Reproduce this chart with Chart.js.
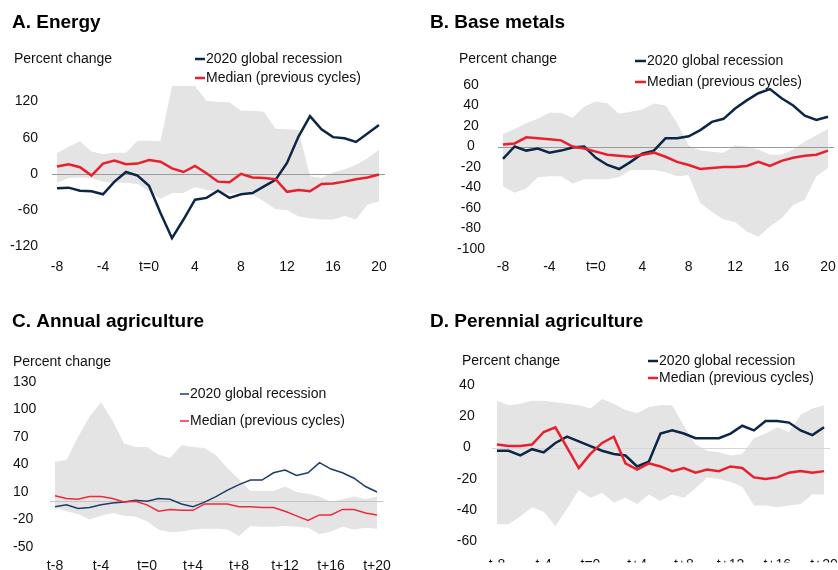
<!DOCTYPE html>
<html lang="en">
<head>
<meta charset="UTF-8">
<title>Commodity prices around global recessions</title>
<script src="https://cdn.jsdelivr.net/npm/chart.js"></script>
<style>
    body { margin: 0; background: #fff; }
    #wrap { position: relative; width: 838px; height: 570px; overflow: hidden; }
    .panel { position: absolute; width: 419px; height: 285px; }
</style>
</head>
<body>
<div id="wrap">
    <div class="panel" style="left:0;top:0"><canvas id="energy" width="419" height="285"></canvas></div>
    <div class="panel" style="left:419px;top:0"><canvas id="metals" width="419" height="285"></canvas></div>
    <div class="panel" style="left:0;top:285px"><canvas id="annual" width="419" height="285"></canvas></div>
    <div class="panel" style="left:419px;top:285px"><canvas id="perennial" width="419" height="285"></canvas></div>
</div>

<script>
// periods around the start of each recession
const periodsTop = ["-8","-7","-6","-5","-4","-3","-2","-1","t=0","1","2","3","4","5","6","7","8","9","10","11","12","13","14","15","16","17","18","19","20"];
const periodsBottom = ["t-8","t-7","t-6","t-5","t-4","t-3","t-2","t-1","t=0","t+1","t+2","t+3","t+4","t+5","t+6","t+7","t+8","t+9","t+10","t+11","t+12","t+13","t+14","t+15","t+16","t+17","t+18","t+19","t+20"];

const seriesNames = ["2020 global recession", "Median (previous cycles)"];

// A. Energy
const energyRecession = [-24,-23,-28,-29,-34,-13,3,-3,-20,-65,-107,-76,-43,-40,-28,-40,-34,-32,-21,-10,18,62,96,74,61,59,53,67,81];
const energyMedian = [12,16,11,-3,17,22,16,17,23,20,9,3,13,1,-13,-14,0,-6,-7,-9,-30,-27,-29,-17,-16,-13,-9,-6,-1];
const energyHigh = [34,45,54,37,33,35,35,55,55,54,146,146,146,121,120,119,105,105,103,75,74,73,-4,-7,2,7,15,26,40];
const energyLow = [-15,-7,-6,-7,-13,-15,-15,-17,-29,-42,-32,-32,-22,-27,-29,-33,-31,-35,-46,-59,-60,-71,-74,-76,-76,-70,-76,-51,-46];
const energyTicks = [-120,-60,0,60,120];

// B. Base metals
const metalsRecession = [-12,0,-4,-2,-6,-4,-1,0,-11,-18,-22,-15,-7,-4,8,8,10,16,24,27,37,45,52,56,47,40,30,26,29];
const metalsMedian = [2,3,9,8,7,6,0,-2,-5,-8,-9,-10,-8,-6,-10,-15,-18,-22,-21,-20,-20,-19,-15,-19,-14,-11,-9,-8,-4];
const metalsHigh = [12,17,23,27,33,33,28,39,44,42,32,34,36,42,40,23,1,-4,-5,-6,1,0,-3,-8,-8,-3,5,11,17];
const metalsLow = [-39,-45,-41,-30,-29,-29,-36,-32,-32,-32,-30,-23,-23,-23,-25,-29,-28,-55,-64,-71,-74,-83,-88,-78,-70,-57,-52,-29,-21];
const metalsTicks = [-100,-80,-60,-40,-20,0,20,40,60];

// C. Annual agriculture
const annualRecession = [-6,-4,-8,-7,-4,-2,-1,1,0,3,2,-3,-6,-1,5,12,18,23,23,31,34,28,31,42,35,31,25,16,10];
const annualMedian = [6,3,2,5,5,3,-1,0,-4,-11,-9,-10,-10,-3,-3,-3,-6,-6,-7,-7,-11,-16,-21,-15,-15,-9,-9,-13,-15];
const annualHigh = [43,45,70,92,108,88,63,59,59,51,47,61,59,58,50,36,24,11,11,11,16,10,8,5,-1,2,5,2,5];
const annualLow = [-7,-11,-14,-20,-16,-13,-16,-17,-22,-31,-34,-33,-31,-30,-30,-31,-38,-27,-28,-28,-27,-28,-29,-36,-33,-28,-31,-29,-30];
const annualTicks = [-50,-20,10,40,70,100,130];

// D. Perennial agriculture
const perennialRecession = [-2,-2,-5,-1,-3,3,7,4,1,-2,-4,-5,-12,-9,9,11,9,6,6,6,9,14,11,17,17,16,11,8,13];
const perennialMedian = [2,1,1,2,10,13,0,-13,-4,3,7,-10,-14,-10,-12,-15,-13,-16,-14,-15,-12,-13,-19,-20,-19,-16,-15,-16,-15];
const perennialHigh = [30,27,28,30,30,29,28,27,25,31,28,24,22,26,27,27,14,2,-2,-3,-5,-4,6,9,13,10,21,25,27];
const perennialLow = [-49,-49,-44,-38,-41,-50,-39,-27,-32,-29,-35,-32,-36,-30,-34,-30,-32,-26,-19,-20,-22,-25,-37,-37,-38,-37,-36,-30,-30];
const perennialTicks = [-60,-40,-20,0,20,40];

const FONT = "'Liberation Sans', Arial, Helvetica, sans-serif";
Chart.defaults.font.family = FONT;
Chart.defaults.font.size = 14;
Chart.defaults.color = "#111";

// title, unit label, legend and zero line
const decorations = {
    id: "decorations",
    beforeDatasetDraw(chart, args, opts) {
        if (args.index !== 1) return;
        const ctx = chart.ctx;
        const y = Math.round(chart.scales.y.getPixelForValue(0)) + 0.5;
        ctx.save();
        ctx.strokeStyle = opts.zeroColor;
        ctx.lineWidth = 1;
        ctx.beginPath();
        ctx.moveTo(chart.chartArea.left - 5, y);
        ctx.lineTo(chart.chartArea.right + 6, y);
        ctx.stroke();
        ctx.restore();
    },
    afterDraw(chart, args, opts) {
        const ctx = chart.ctx;
        ctx.save();
        ctx.textBaseline = "middle";
        ctx.textAlign = "left";
        ctx.fillStyle = "#000";
        ctx.font = "bold 19px " + FONT;
        ctx.fillText(opts.title, opts.titleX, opts.titleY);
        ctx.font = "14px " + FONT;
        ctx.fillStyle = "#111";
        ctx.fillText("Percent change", opts.unitX, opts.unitY);

        opts.legendRows.forEach((rowY, i) => {
            const ds = chart.data.datasets[opts.legendOrder[i]];
            ctx.strokeStyle = ds.borderColor;
            ctx.lineWidth = ds.borderWidth;
            ctx.beginPath();
            ctx.moveTo(opts.legendX, rowY);
            ctx.lineTo(opts.legendX + opts.markerW, rowY);
            ctx.stroke();
            ctx.fillText(ds.label, opts.legendX + opts.markerW + 1, rowY);
        });
        ctx.restore();
    }
};

function makePanel(id, cfg) {
    const W = 419, H = 285;
    new Chart(document.getElementById(id), {
        type: "line",
        data: {
            labels: cfg.labels,
            datasets: [
                { label: seriesNames[1], data: cfg.median, borderColor: cfg.red, borderWidth: cfg.lineWidth, pointRadius: 0, fill: false, tension: 0 },
                { label: seriesNames[0], data: cfg.recession, borderColor: cfg.navy, borderWidth: cfg.lineWidth, pointRadius: 0, fill: false, tension: 0 },
                { label: "high", data: cfg.high, borderWidth: 0, borderColor: "rgba(0,0,0,0)", pointRadius: 0, backgroundColor: "#e4e4e4", fill: "+1", tension: 0 },
                { label: "low", data: cfg.low, borderWidth: 0, borderColor: "rgba(0,0,0,0)", pointRadius: 0, fill: false, tension: 0 }
            ]
        },
        options: {
            responsive: false,
            animation: false,
            layout: {
                padding: { left: cfg.padLeft, top: cfg.area.top, right: W - cfg.area.right, bottom: 0 }
            },
            scales: {
                x: {
                    grid: { display: false, drawTicks: false },
                    border: { display: false },
                    offset: false,
                    ticks: {
                        autoSkip: false,
                        maxRotation: 0,
                        padding: cfg.xPad,
                        callback: (v, i) => (i % 4 === 0 ? cfg.labels[i] : "")
                    },
                    afterFit: (s) => {
                        s.height = H - cfg.area.bottom;
                        s.paddingLeft = 0;
                        s.paddingRight = 0;
                    }
                },
                y: {
                    min: cfg.min,
                    max: cfg.max,
                    grid: { display: false, drawTicks: false },
                    border: { display: false },
                    ticks: { padding: cfg.yPad, crossAlign: cfg.align },
                    afterBuildTicks: (s) => { s.ticks = cfg.ticks.map(v => ({ value: v })); },
                    afterFit: (s) => { s.width = cfg.area.left - cfg.padLeft; }
                }
            },
            plugins: {
                legend: { display: false },
                tooltip: { enabled: false },
                decorations: Object.assign({ legendOrder: [1, 0] }, cfg.deco)
            }
        },
        plugins: [decorations]
    });
}

makePanel("energy", {
    labels: periodsTop, recession: energyRecession, median: energyMedian, high: energyHigh, low: energyLow,
    ticks: energyTicks, min: -125, max: 146,
    area: { left: 57, right: 379, top: 86, bottom: 249 }, padLeft: 0,
    align: "near", yPad: 19, xPad: 10,
    navy: "#0c2647", red: "#e8202e", lineWidth: 2.5,
    deco: { title: "A. Energy", titleX: 12, titleY: 23, unitX: 14, unitY: 59, legendX: 195, markerW: 10, legendRows: [59, 78], zeroColor: "#9a9a9a" }
});

makePanel("metals", {
    labels: periodsTop, recession: metalsRecession, median: metalsMedian, high: metalsHigh, low: metalsLow,
    ticks: metalsTicks, min: -100, max: 60,
    area: { left: 84, right: 409, top: 85, bottom: 249 }, padLeft: 0,
    align: "center", yPad: 18, xPad: 10,
    navy: "#0c2647", red: "#e8202e", lineWidth: 2.5,
    deco: { title: "B. Base metals", titleX: 11, titleY: 23, unitX: 40, unitY: 59, legendX: 216, markerW: 11, legendRows: [61, 82], zeroColor: "#9a9a9a" }
});

makePanel("annual", {
    labels: periodsBottom, recession: annualRecession, median: annualMedian, high: annualHigh, low: annualLow,
    ticks: annualTicks, min: -50, max: 130,
    area: { left: 55, right: 377, top: 97, bottom: 262 }, padLeft: 13,
    align: "far", yPad: 10, xPad: 11,
    navy: "#1e3d6c", red: "#ee2a3a", lineWidth: 1.5,
    deco: { title: "C. Annual agriculture", titleX: 12, titleY: 37, unitX: 13, unitY: 77, legendX: 180, markerW: 9, legendRows: [109, 136], zeroColor: "#c4c4c4" }
});

makePanel("perennial", {
    labels: periodsBottom, recession: perennialRecession, median: perennialMedian, high: perennialHigh, low: perennialLow,
    ticks: perennialTicks, min: -60, max: 40,
    area: { left: 78, right: 405, top: 100, bottom: 264 }, padLeft: 0,
    align: "center", yPad: 20, xPad: 15,
    navy: "#0c2647", red: "#e8202e", lineWidth: 2.5,
    deco: { title: "D. Perennial agriculture", titleX: 11, titleY: 37, unitX: 43, unitY: 76, legendX: 229, markerW: 10, legendRows: [76, 93], zeroColor: "#d6d6d6" }
});
</script>
</body>
</html>
